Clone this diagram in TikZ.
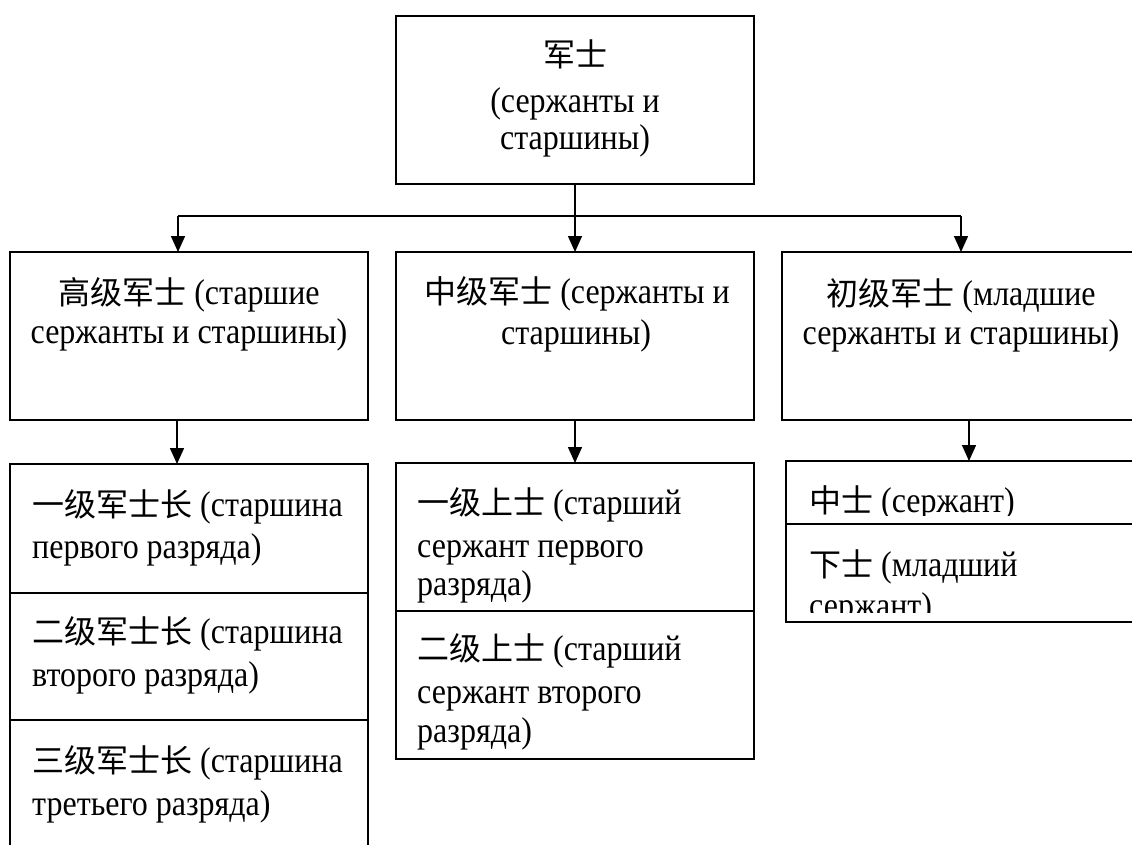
\documentclass[tikz,border=0pt]{standalone}
\usepackage{fontspec}
\usepackage{graphicx}
\setmainfont{Liberation Serif}
\newfontfamily\cjkfont{Noto Sans CJK SC}
\newcommand{\zh}[1]{{\cjkfont #1}}
\newcommand{\ru}[1]{\scalebox{1}[1.12]{#1}}
\usetikzlibrary{arrows.meta}
\begin{document}
\begin{tikzpicture}[x=1pt,y=-1pt,
  box/.style={draw=black,line width=1.5pt,rectangle,inner sep=0pt,outer sep=0pt,minimum width=358pt},
  conn/.style={draw=black,line width=1.5pt},
  arr/.style={conn,-{Triangle[length=16pt,width=14pt]}},
  lc/.style={anchor=base,inner sep=0pt,font=\fontsize{32}{38}\selectfont},
  ll/.style={anchor=base west,inner sep=0pt,font=\fontsize{32}{38}\selectfont}]
\clip (0,0) rectangle (1132,844);
\fill[white] (0,0) rectangle (1132,844);
% boxes
\node[box,minimum height=168pt] (top) at (575,100) {};
\node[box,minimum height=168pt] (L1) at (189,336) {};
\node[box,minimum height=168pt] (M1) at (575,336) {};
\node[box,minimum height=168pt] (R1) at (961,336) {};
\node[box,minimum height=129pt] (LA) at (189,528.5) {};
\node[box,minimum height=127pt] (LB) at (189,656.5) {};
\node[box,minimum height=140pt] (LC) at (189,790) {};
\node[box,minimum height=148pt] (MA) at (575,537) {};
\node[box,minimum height=148pt] (MB) at (575,685) {};
\node[box,minimum width=364pt,minimum height=63pt] (RA) at (968,492.5) {};
\node[box,minimum width=364pt,minimum height=98pt] (RB) at (968,573) {};
% connectors
\coordinate (jL) at (178,216);
\coordinate (jM) at (575,216);
\coordinate (jR) at (961,216);
\coordinate (aL) at (177,420);
\coordinate (aR) at (969,420);
\draw[conn] (jL) -- (jR);
\draw[arr] (top.south) -- (M1.north);
\draw[arr] (jL) -- (jL |- L1.north);
\draw[arr] (jR) -- (jR |- R1.north);
\draw[arr] (aL) -- (aL |- LA.north);
\draw[arr] (M1.south) -- (MA.north);
\draw[arr] (aR) -- (aR |- RA.north);
% top text
\node[lc] (t1) at (575,66) {\zh{军士}};
\node[lc] (t2) at (575,112) {\ru{(сержанты и}};
\node[lc] (t3) at (575,149) {\ru{старшины)}};
% second row
\node[lc] (l1a) at (189,304) {\zh{高级军士} \ru{(старшие}};
\node[lc] (l1b) at (189,343) {\ru{сержанты и старшины)}};
\node[lc] (m1a) at (577,303) {\zh{中级军士} \ru{(сержанты и}};
\node[lc] (m1b) at (576,344) {\ru{старшины)}};
\node[lc] (r1a) at (961,305) {\zh{初级军士} \ru{(младшие}};
\node[lc] (r1b) at (961,344) {\ru{сержанты и старшины)}};
% left bottom
\node[ll] (la1) at (32,516) {\zh{一级军士长} \ru{(старшина}};
\node[ll] (la2) at (32,558) {\ru{первого разряда)}};
\node[ll] (lb1) at (32,643) {\zh{二级军士长} \ru{(старшина}};
\node[ll] (lb2) at (32,686) {\ru{второго разряда)}};
\node[ll] (lc1) at (32,772) {\zh{三级军士长} \ru{(старшина}};
\node[ll] (lc2) at (32,815) {\ru{третьего разряда)}};
% middle bottom
\node[ll] (ma1) at (417,514) {\zh{一级上士} \ru{(старший}};
\node[ll] (ma2) at (417,557) {\ru{сержант первого}};
\node[ll] (ma3) at (417,595) {\ru{разряда)}};
\node[ll] (mb1) at (417,660) {\zh{二级上士} \ru{(старший}};
\node[ll] (mb2) at (417,703) {\ru{сержант второго}};
\node[ll] (mb3) at (417,742) {\ru{разряда)}};
% right bottom (clipped)
\begin{scope}
\clip (787,462) rectangle (1132,515);
\node[ll] (ra1) at (809,512) {\zh{中士} \ru{(сержант)}};
\end{scope}
\begin{scope}
\clip (787,525) rectangle (1132,612);
\node[ll] (rb1) at (809,576) {\zh{下士} \ru{(младший}};
\node[ll] (rb2) at (809,617) {\ru{сержант)}};
\end{scope}
\end{tikzpicture}
\end{document}
